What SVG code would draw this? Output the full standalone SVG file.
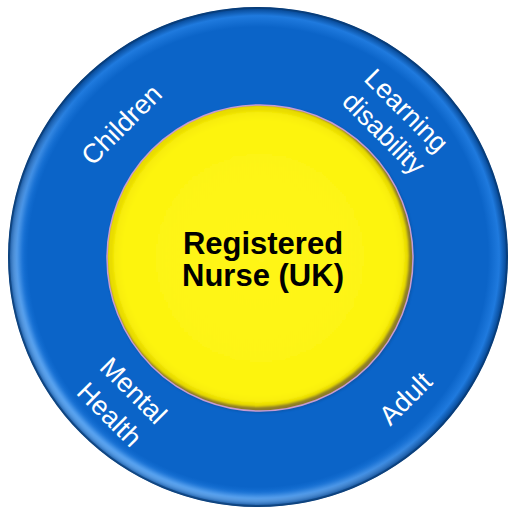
<svg xmlns="http://www.w3.org/2000/svg" width="514" height="513" viewBox="0 0 514 513">
  <defs>
    <radialGradient id="blueRing" cx="258" cy="257" r="250" gradientUnits="userSpaceOnUse">
      <stop offset="0" stop-color="#0b64c8"/>
      <stop offset="0.92" stop-color="#0b64c8"/>
      <stop offset="0.965" stop-color="#1f7ade"/>
      <stop offset="0.99" stop-color="#0a4f9f"/>
      <stop offset="1" stop-color="#083f80"/>
    </radialGradient>
    <linearGradient id="rimLight" x1="0.85" y1="0.1" x2="0.15" y2="0.9">
      <stop offset="0" stop-color="#ffffff" stop-opacity="0"/>
      <stop offset="0.5" stop-color="#ffffff" stop-opacity="0"/>
      <stop offset="1" stop-color="#7fc0ff" stop-opacity="0.65"/>
    </linearGradient>
    <radialGradient id="yellowFill" cx="260" cy="258" r="153" gradientUnits="userSpaceOnUse">
      <stop offset="0" stop-color="#fff51a"/>
      <stop offset="0.9" stop-color="#fdf40f"/>
      <stop offset="1" stop-color="#f2e600"/>
    </radialGradient>
    <filter id="soft" x="-10%" y="-10%" width="120%" height="120%">
      <feGaussianBlur stdDeviation="2.5"/>
    </filter>
    <filter id="soft1" x="-10%" y="-10%" width="120%" height="120%">
      <feGaussianBlur stdDeviation="1.2"/>
    </filter>
    <clipPath id="yclip"><circle cx="260" cy="258" r="153"/></clipPath>
    <clipPath id="oclip"><circle cx="258" cy="257" r="250"/></clipPath>
  </defs>
  <style>
    .lbl { font-family: "Liberation Sans", Arial, sans-serif; font-size: 27px; fill: #ffffff; text-anchor: middle; }
    .ctr { font-family: "Liberation Sans", Arial, sans-serif; font-size: 31px; font-weight: bold; fill: #000000; text-anchor: middle; }
  </style>

  <g id="outer-ring">
    <circle cx="258" cy="257" r="250" fill="url(#blueRing)"/>
    <g clip-path="url(#oclip)">
      <circle cx="258" cy="257" r="243" fill="none" stroke="url(#rimLight)" stroke-width="9" filter="url(#soft)"/>
      <circle cx="258" cy="257" r="249" fill="none" stroke="#07386f" stroke-width="2" opacity="0.6"/>
    </g>
  </g>

  <g id="inner-circle">
    <circle cx="261" cy="259" r="154" fill="#0a3f7a" opacity="0.35" filter="url(#soft1)"/>
    <circle cx="260" cy="258" r="153" fill="#8c7c28"/>
    <g clip-path="url(#yclip)">
      <circle cx="258" cy="256" r="151" fill="#e9dc00" filter="url(#soft1)"/>
      <circle cx="259" cy="257" r="146" fill="url(#yellowFill)" filter="url(#soft1)"/>
    </g>
    <circle cx="260" cy="258" r="153" fill="none" stroke="#c79cd2" stroke-width="1.5"/>
    <text class="ctr" x="263" y="254">Registered</text>
    <text class="ctr" x="263" y="286">Nurse (UK)</text>
  </g>

  <g id="label-children" transform="translate(121,124) rotate(-45)">
    <text class="lbl" x="0" y="10">Children</text>
  </g>
  <g id="label-learning-disability" transform="translate(395,122) rotate(45)">
    <text class="lbl" x="0" y="-7">Learning</text>
    <text class="lbl" x="0" y="25">disability</text>
  </g>
  <g id="label-mental-health" transform="translate(122,402) rotate(45)">
    <text class="lbl" x="0" y="-7">Mental</text>
    <text class="lbl" x="0" y="27">Health</text>
  </g>
  <g id="label-adult" transform="translate(405,398) rotate(-45)">
    <text class="lbl" x="0" y="10">Adult</text>
  </g>

  <g id="connectors"/>
</svg>
